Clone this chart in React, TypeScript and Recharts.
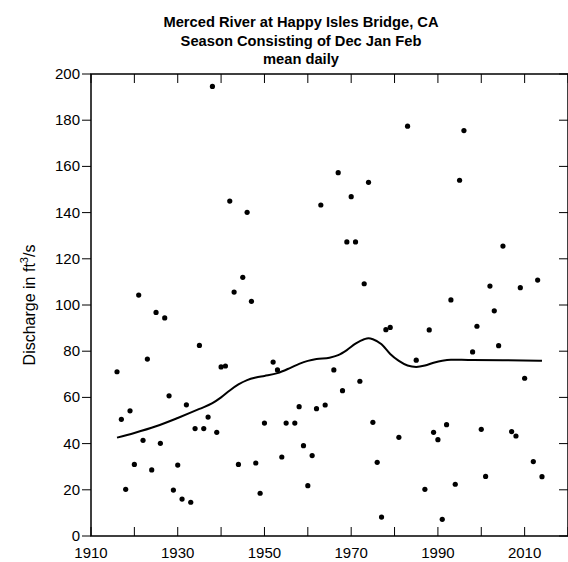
import { ComposedChart, Line, Scatter, XAxis, YAxis, ReferenceArea, Customized } from 'recharts';

const titleLines = ['Merced River at Happy Isles Bridge, CA', 'Season Consisting of Dec Jan Feb', 'mean daily'];

// water years and seasonal mean daily discharge (ft3/s)
const years = [
  1916, 1917, 1918, 1919, 1920, 1921, 1922, 1923, 1924, 1925, 1926, 1927, 1928, 1929, 1930,
  1931, 1932, 1933, 1934, 1935, 1936, 1937, 1938, 1939, 1940, 1941, 1942, 1943, 1944, 1945,
  1946, 1947, 1948, 1949, 1950, 1952, 1953, 1954, 1955, 1957, 1958, 1959, 1960, 1961, 1962,
  1963, 1964, 1966, 1967, 1968, 1969, 1970, 1971, 1972, 1973, 1974, 1975, 1976, 1977, 1978,
  1979, 1981, 1983, 1985, 1987, 1988, 1989, 1990, 1991, 1992, 1993, 1994, 1995, 1996, 1998,
  1999, 2000, 2001, 2002, 2003, 2004, 2005, 2007, 2008, 2009, 2010, 2012, 2013, 2014,
];
const discharge = [
  71.1, 50.5, 20.2, 54.2, 31.0, 104.3, 41.4, 76.6, 28.6, 96.8, 40.1, 94.4, 60.7, 19.9, 30.7,
  16.0, 56.8, 14.6, 46.5, 82.5, 46.5, 51.5, 194.6, 44.9, 73.2, 73.6, 145.0, 105.6, 31.0, 112.0,
  140.1, 101.6, 31.6, 18.5, 48.9, 75.3, 71.9, 34.2, 48.9, 48.9, 56.0, 39.1, 21.8, 34.8, 55.1,
  143.3, 56.7, 71.9, 157.3, 62.9, 127.3, 146.9, 127.3, 67.0, 109.2, 153.1, 49.2, 31.9, 8.2, 89.3,
  90.3, 42.7, 177.4, 76.1, 20.2, 89.2, 44.9, 41.7, 7.2, 48.2, 102.2, 22.4, 154.0, 175.5, 79.7,
  90.8, 46.2, 25.8, 108.2, 97.5, 82.4, 125.5, 45.2, 43.3, 107.5, 68.3, 32.2, 110.8, 25.7,
];

// smoothed trend
const trendYears = [
  1916, 1920, 1925, 1930, 1935, 1938, 1940, 1942, 1944, 1946, 1948, 1950, 1953, 1956, 1958,
  1960, 1962, 1965, 1967, 1969, 1971, 1973, 1974, 1975, 1977, 1979, 1981, 1983, 1985, 1987,
  1989, 1991, 1993, 1997, 2005, 2014,
];
const trendValues = [
  42.6, 44.6, 47.5, 51.1, 55.0, 57.5, 60.0, 63.0, 65.6, 67.5, 68.6, 69.3, 70.5, 72.8, 74.5,
  75.8, 76.6, 77.2, 78.3, 80.5, 83.3, 85.2, 85.6, 85.2, 83.0, 78.8, 75.8, 73.8, 73.2, 73.8,
  75.0, 75.9, 76.3, 76.2, 76.1, 75.9,
];

const xTicks = [1910, 1920, 1930, 1940, 1950, 1960, 1970, 1980, 1990, 2000, 2010, 2020];
const xLabels = [1910, 1930, 1950, 1970, 1990, 2010];
const yTicks = [0, 20, 40, 60, 80, 100, 120, 140, 160, 180, 200];

const points = years.map((x, i) => ({ x, y: discharge[i] }));
const trend = trendYears.map((x, i) => ({ x, y: trendValues[i] }));

const W = 568;
const H = 562;
const TOP = 74;
const BOTTOM = 536;
const LEFT = 91;
const font = '"Liberation Sans", Arial, sans-serif';

const XTick = (props: any) => {
  const { x, y, payload } = props;
  return (
    <g>
      <line x1={x} x2={x} y1={y} y2={y - 9} stroke="#000" strokeWidth={1} />
      <line x1={x} x2={x} y1={TOP} y2={TOP + 9} stroke="#000" strokeWidth={1} />
      {xLabels.includes(payload.value) && (
        <text x={x} y={y + 22} textAnchor="middle" fontSize={15} fontFamily={font} fill="#000">
          {payload.value}
        </text>
      )}
    </g>
  );
};

const YTick = (props: any) => {
  const { x, y, payload } = props;
  return (
    <g>
      <line x1={x - 9} x2={x} y1={y} y2={y} stroke="#000" strokeWidth={1} />
      <line x1={W - 9} x2={W} y1={y} y2={y} stroke="#000" strokeWidth={1} />
      <text x={x - 11} y={y + 5} textAnchor="end" fontSize={15} fontFamily={font} fill="#000">
        {payload.value}
      </text>
    </g>
  );
};

const Labels = () => (
  <g fontFamily={font} fill="#000">
    {titleLines.map((t, i) => (
      <text key={t} x={301} y={27 + i * 18.5} textAnchor="middle" fontSize={14.7} fontWeight="bold">
        {t}
      </text>
    ))}
    <text transform={`translate(35, ${(TOP + BOTTOM) / 2}) rotate(-90)`} textAnchor="middle" fontSize={16}>
      Discharge in ft<tspan dy={-7} fontSize={11}>3</tspan>
      <tspan dy={7}>/s</tspan>
    </text>
  </g>
);

const Dot = (props: any) => <circle cx={props.cx} cy={props.cy} r={2.6} fill="#000" />;

export default function App() {
  return (
    <div style={{ position: 'absolute', left: 0, top: 0, background: '#fff' }}>
      <ComposedChart width={W} height={H} margin={{ top: TOP, right: 0, bottom: 0, left: 0 }}>
        <XAxis
          dataKey="x"
          type="number"
          domain={[1910, 2020]}
          ticks={xTicks}
          interval={0}
          height={H - BOTTOM}
          axisLine={false}
          tickLine={false}
          tickSize={0}
          tickMargin={0}
          tick={<XTick />}
          allowDataOverflow
        />
        <YAxis
          dataKey="y"
          type="number"
          domain={[0, 200]}
          ticks={yTicks}
          interval={0}
          width={LEFT}
          axisLine={false}
          tickLine={false}
          tickSize={0}
          tickMargin={0}
          tick={<YTick />}
          allowDataOverflow
        />
        <ReferenceArea x1={1910} x2={2020} y1={0} y2={200} fill="none" stroke="#000" strokeWidth={1.5} />
        <Line
          data={trend}
          dataKey="y"
          type="monotone"
          stroke="#000"
          strokeWidth={2}
          dot={false}
          activeDot={false}
          isAnimationActive={false}
        />
        <Scatter data={points} dataKey="y" shape={<Dot />} isAnimationActive={false} />
        <Customized component={Labels} />
      </ComposedChart>
    </div>
  );
}
